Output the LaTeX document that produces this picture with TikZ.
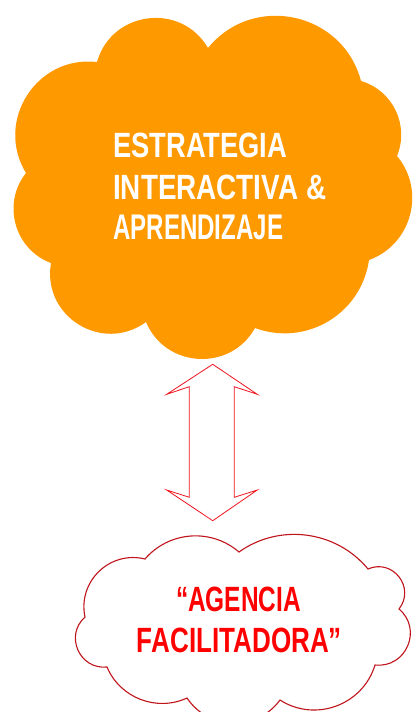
\documentclass[tikz,border=0pt]{standalone}
\usepackage{fontspec}
\setmainfont{Liberation Sans}
\usepackage{graphicx}
\definecolor{cloudorange}{HTML}{FF9900}
\definecolor{cloudline}{HTML}{C0141C}
\definecolor{arrowred}{HTML}{F0141E}
\definecolor{textred}{HTML}{FF0000}
\tikzset{
  toptext/.style={anchor=base west, inner sep=0pt, text=white, font=\bfseries\fontsize{33}{40}\selectfont},
  bottext/.style={anchor=base, inner sep=0pt, text=textred, font=\bfseries\fontsize{33}{40}\selectfont},
  bigcloud/.style={fill=cloudorange, draw=none},
  smallcloud/.style={fill=white, draw=cloudline, line width=1.1pt},
  dblarrow/.style={draw=arrowred, line width=0.8pt, fill=white, line join=miter}
}
\begin{document}
\begin{tikzpicture}[x=1pt,y=1pt]
\useasboundingbox (0,0) rectangle (414,-712);
\clip (0,0) rectangle (414,-712);
\fill[white] (0,0) rectangle (414,-712);
% top cloud cusps
\coordinate (c1) at (97,-62);
\coordinate (c2) at (208,-48);
\coordinate (c3) at (361,-81);
\coordinate (c4) at (397,-156);
\coordinate (c5) at (369,-260);
\coordinate (c6) at (255,-328);
\coordinate (c7) at (146,-322);
\coordinate (c8) at (51,-263);
\coordinate (c9) at (26,-173);
\path[bigcloud] (c1)
  to[bend left=67, looseness=1.22] (c2)
  to[bend left=63, looseness=1.17] (c3)
  to[bend left=48, looseness=1.02] (c4)
  to[bend left=55, looseness=1.08] (c5)
  to[bend left=51, looseness=1.05] (c6)
  to[bend left=64, looseness=1.18] (c7)
  to[bend left=68, looseness=1.24] (c8)
  to[bend left=54, looseness=1.07] (c9)
  to[bend left=64, looseness=1.18] (c1) -- cycle;
% bottom cloud cusps
\coordinate (d1) at (145,-559);
\coordinate (d2) at (239,-552);
\coordinate (d3) at (368,-569);
\coordinate (d4) at (399,-609);
\coordinate (d5) at (375,-665);
\coordinate (d6) at (280,-700);
\coordinate (d7) at (187,-698);
\coordinate (d8) at (107,-667);
\coordinate (d9) at (85,-617);
\path[smallcloud] (d1)
  to[bend left=45, looseness=1.00] (d2)
  to[bend left=43, looseness=0.98] (d3)
  to[bend left=76, looseness=1.37] (d4)
  to[bend left=73, looseness=1.32] (d5)
  to[bend left=53, looseness=1.06] (d6)
  to[bend left=55, looseness=1.08] (d7)
  to[bend left=46, looseness=1.00] (d8)
  to[bend left=72, looseness=1.30] (d9)
  to[bend left=58, looseness=1.11] (d1) -- cycle;
% double arrow
\coordinate (at) at (212.7,-364.3);
\coordinate (ab) at (212.7,-520.7);
\path[dblarrow] (at) -- (257.3,-394.3) -- (234.3,-386.7) -- (234.3,-497.3)
  -- (257.3,-490) -- (ab) -- (166.7,-490) -- (189.3,-497.3)
  -- (189.3,-386.7) -- (166.7,-394.3) -- cycle;
% texts
\node[toptext] (t1) at (113,-157) {\resizebox{174pt}{24.5pt}{ESTRATEGIA}};
\node[toptext] (t2) at (113,-199) {\resizebox{213pt}{24.5pt}{INTERACTIVA \&}};
\node[toptext] (t3) at (113,-239) {\resizebox{170pt}{24.5pt}{APRENDIZAJE}};
\node[bottext] (b1) at (238.5,-611) {\resizebox{125pt}{24.5pt}{“AGENCIA}};
\node[bottext] (b2) at (239.5,-652) {\resizebox{205pt}{24.5pt}{FACILITADORA”}};
\end{tikzpicture}
\end{document}
